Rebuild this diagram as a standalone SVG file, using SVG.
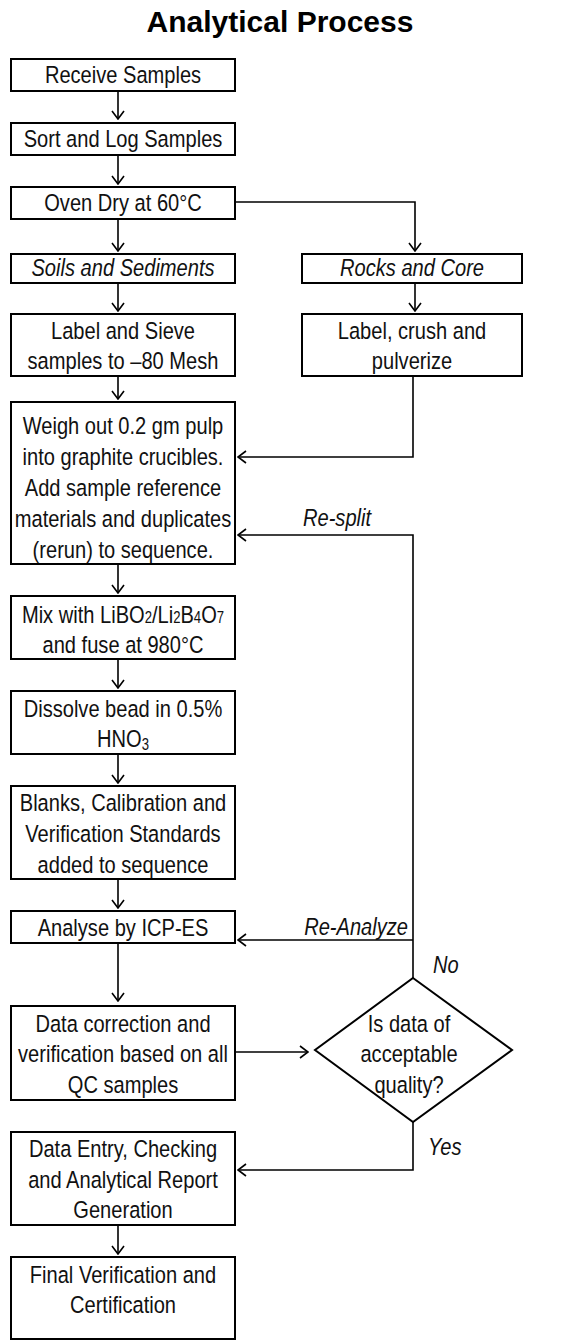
<svg xmlns="http://www.w3.org/2000/svg" width="561" height="1340" viewBox="0 0 561 1340">
<style>
.box{fill:#fff;stroke:#000;stroke-width:2}
.t{font-family:"Liberation Sans",Arial,sans-serif;font-size:24.5px;fill:#111;text-anchor:middle}
.i{font-style:italic}
.lbl{font-family:"Liberation Sans",Arial,sans-serif;font-size:24.5px;font-style:italic;fill:#111}
.title{font-family:"Liberation Sans",Arial,sans-serif;font-weight:bold;font-size:30px;text-anchor:middle;fill:#000}
.c{fill:none;stroke:#000;stroke-width:1.6}
.sub{font-size:16px}
</style>
<defs>
<marker id="ah" viewBox="0 0 10 14" refX="9" refY="7" markerWidth="10" markerHeight="14" markerUnits="userSpaceOnUse" orient="auto">
<path d="M1,1 L9,7 L1,13" fill="none" stroke="#000" stroke-width="1.6"/>
</marker>
</defs>
<text class="title" x="280" y="32">Analytical Process</text>

<g id="connectors">
<line class="c" x1="118" y1="91" x2="118" y2="119" marker-end="url(#ah)"/>
<line class="c" x1="118" y1="155" x2="118" y2="184" marker-end="url(#ah)"/>
<line class="c" x1="118" y1="219" x2="118" y2="251" marker-end="url(#ah)"/>
<polyline class="c" points="235,202 415,202 415,251" marker-end="url(#ah)"/>
<line class="c" x1="118" y1="283" x2="118" y2="311" marker-end="url(#ah)"/>
<line class="c" x1="415" y1="283" x2="415" y2="311" marker-end="url(#ah)"/>
<line class="c" x1="118" y1="376" x2="118" y2="399" marker-end="url(#ah)"/>
<polyline class="c" points="413,376 413,457 238,457" marker-end="url(#ah)"/>
<polyline class="c" points="413,988 413,535 238,535" marker-end="url(#ah)"/>
<line class="c" x1="413" y1="940" x2="238" y2="940" marker-end="url(#ah)"/>
<line class="c" x1="118" y1="564" x2="118" y2="593" marker-end="url(#ah)"/>
<line class="c" x1="118" y1="659" x2="118" y2="688" marker-end="url(#ah)"/>
<line class="c" x1="118" y1="754" x2="118" y2="783" marker-end="url(#ah)"/>
<line class="c" x1="118" y1="879" x2="118" y2="908" marker-end="url(#ah)"/>
<line class="c" x1="118" y1="943" x2="118" y2="1001" marker-end="url(#ah)"/>
<line class="c" x1="235" y1="1052" x2="308" y2="1052" marker-end="url(#ah)"/>
<polyline class="c" points="413,1122 413,1170 238,1170" marker-end="url(#ah)"/>
<line class="c" x1="118" y1="1225" x2="118" y2="1254" marker-end="url(#ah)"/>
<text class="lbl" transform="matrix(0.82 0 0 1 303 0)" x="0" y="526">Re-split</text>
<text class="lbl" transform="matrix(0.82 0 0 1 408 0)" x="0" y="935" text-anchor="end">Re-Analyze</text>
<text class="lbl" transform="matrix(0.82 0 0 1 433 0)" x="0" y="973">No</text>
<text class="lbl" transform="matrix(0.82 0 0 1 428 0)" x="0" y="1155">Yes</text>
</g>

<g id="receive"><rect class="box" x="11" y="59" width="224" height="32"/><text class="t" transform="matrix(0.82 0 0 1 123 0)" x="0" y="83">Receive Samples</text></g>
<g id="sort"><rect class="box" x="11" y="123" width="224" height="32"/><text class="t" transform="matrix(0.82 0 0 1 123 0)" x="0" y="147">Sort and Log Samples</text></g>
<g id="oven"><rect class="box" x="11" y="187" width="224" height="32"/><text class="t" transform="matrix(0.82 0 0 1 123 0)" x="0" y="211">Oven Dry at 60°C</text></g>
<g id="soils"><rect class="box" x="11" y="254" width="224" height="29"/><text class="t i" transform="matrix(0.82 0 0 1 123 0)" x="0" y="276">Soils and Sediments</text></g>
<g id="rocks"><rect class="box" x="302" y="254" width="220" height="29"/><text class="t i" transform="matrix(0.82 0 0 1 412 0)" x="0" y="276">Rocks and Core</text></g>
<g id="sieve"><rect class="box" x="11" y="314" width="224" height="62"/><text class="t" transform="matrix(0.82 0 0 1 123 0)" x="0" y="339">Label and Sieve</text><text class="t" transform="matrix(0.82 0 0 1 123 0)" x="0" y="369">samples to –80 Mesh</text></g>
<g id="crush"><rect class="box" x="302" y="314" width="220" height="62"/><text class="t" transform="matrix(0.82 0 0 1 412 0)" x="0" y="339">Label, crush and</text><text class="t" transform="matrix(0.82 0 0 1 412 0)" x="0" y="369">pulverize</text></g>
<g id="weigh"><rect class="box" x="11" y="402" width="224" height="162"/>
<text class="t" transform="matrix(0.82 0 0 1 123 0)" x="0" y="434">Weigh out 0.2 gm pulp</text>
<text class="t" transform="matrix(0.82 0 0 1 123 0)" x="0" y="465">into graphite crucibles.</text>
<text class="t" transform="matrix(0.82 0 0 1 123 0)" x="0" y="496">Add sample reference</text>
<text class="t" transform="matrix(0.82 0 0 1 123 0)" x="0" y="527">materials and duplicates</text>
<text class="t" transform="matrix(0.82 0 0 1 123 0)" x="0" y="558">(rerun)  to sequence.</text></g>
<g id="mix"><rect class="box" x="11" y="596" width="224" height="63"/>
<text class="t" transform="matrix(0.82 0 0 1 123 0)" x="0" y="623">Mix with LiBO<tspan class="sub">2</tspan>/Li<tspan class="sub">2</tspan>B<tspan class="sub">4</tspan>O<tspan class="sub">7</tspan></text>
<text class="t" transform="matrix(0.82 0 0 1 123 0)" x="0" y="653">and fuse at 980°C</text></g>
<g id="dissolve"><rect class="box" x="11" y="691" width="224" height="63"/>
<text class="t" transform="matrix(0.82 0 0 1 123 0)" x="0" y="717">Dissolve bead in 0.5%</text>
<text class="t" transform="matrix(0.82 0 0 1 123 0)" x="0" y="747">HNO<tspan class="sub" dy="3">3</tspan></text></g>
<g id="blanks"><rect class="box" x="11" y="786" width="224" height="93"/>
<text class="t" transform="matrix(0.82 0 0 1 123 0)" x="0" y="811">Blanks, Calibration and</text>
<text class="t" transform="matrix(0.82 0 0 1 123 0)" x="0" y="842">Verification Standards</text>
<text class="t" transform="matrix(0.82 0 0 1 123 0)" x="0" y="873">added to sequence</text></g>
<g id="analyse"><rect class="box" x="11" y="911" width="224" height="32"/><text class="t" transform="matrix(0.82 0 0 1 123 0)" x="0" y="936">Analyse by ICP-ES</text></g>
<g id="correction"><rect class="box" x="11" y="1006" width="224" height="94"/>
<text class="t" transform="matrix(0.82 0 0 1 123 0)" x="0" y="1032">Data correction and</text>
<text class="t" transform="matrix(0.82 0 0 1 123 0)" x="0" y="1062">verification based on all</text>
<text class="t" transform="matrix(0.82 0 0 1 123 0)" x="0" y="1093">QC samples</text></g>
<g id="decision"><polygon points="413,978 512,1050 413,1122 315,1050" fill="#fff" stroke="#000" stroke-width="2"/>
<text class="t" transform="matrix(0.82 0 0 1 409 0)" x="0" y="1032">Is data of</text>
<text class="t" transform="matrix(0.82 0 0 1 409 0)" x="0" y="1062">acceptable</text>
<text class="t" transform="matrix(0.82 0 0 1 409 0)" x="0" y="1093">quality?</text></g>
<g id="entry"><rect class="box" x="11" y="1132" width="224" height="93"/>
<text class="t" transform="matrix(0.82 0 0 1 123 0)" x="0" y="1157">Data Entry, Checking</text>
<text class="t" transform="matrix(0.82 0 0 1 123 0)" x="0" y="1188">and Analytical Report</text>
<text class="t" transform="matrix(0.82 0 0 1 123 0)" x="0" y="1218">Generation</text></g>
<g id="final"><rect class="box" x="11" y="1257" width="224" height="82"/>
<text class="t" transform="matrix(0.82 0 0 1 123 0)" x="0" y="1283">Final Verification and</text>
<text class="t" transform="matrix(0.82 0 0 1 123 0)" x="0" y="1313">Certification</text></g>
</svg>
